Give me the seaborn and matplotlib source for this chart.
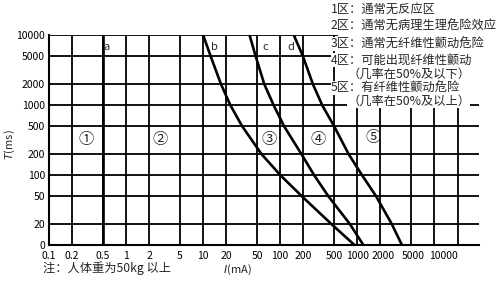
import numpy as np
import pandas as pd
import matplotlib
matplotlib.use("Agg")
import matplotlib.pyplot as plt
from matplotlib.ticker import NullLocator, FixedLocator, FixedFormatter
from matplotlib.patches import Rectangle
from matplotlib.transforms import ScaledTranslation
import seaborn as sns

# ---- data ----
x_ticks = [0.1, 0.2, 0.5, 1, 2, 5, 10, 20, 50, 100, 200, 500, 1000, 2000, 5000, 10000, 20000]
x_tick_labels = ["0.1", "0.2", "0.5", "1", "2", "5", "10", "20", "50", "100", "200",
                 "500", "1000", "2000", "5000", "10000", ""]
y_ticks = [10, 20, 50, 100, 200, 500, 1000, 2000, 5000, 10000]
y_tick_labels = ["0", "20", "50", "100", "200", "500", "1000", "2000", "5000", "10000"]

curve_T = [10000, 5000, 2000, 1000, 500, 200, 100, 50, 20, 10]
a_I = [0.5, 0.5]
a_T = [10, 10000]
b_I = [10, 12.5, 17, 22.5, 32, 57, 100, 190, 460, 920]
c_I = [40, 48, 62, 82, 112, 188, 275, 420, 800, 1200]
d_I = [150, 197, 265, 350, 500, 770, 1150, 1750, 2800, 3800]

curve_names = ["a", "b", "c", "d"]
curve_label_I = [0.56, 14, 64, 139]
curve_label_T = [6700, 6700, 6700, 6700]

zone_labels = ["①", "②", "③", "④", "⑤"]
zone_I = [0.30, 2.8, 72, 307, 1590]
zone_T = [320, 320, 320, 320, 340]

legend_lines = [
    "1区：通常无反应区",
    "2区：通常无病理生理危险效应",
    "3区：通常无纤维性颤动危险",
    "4区：可能出现纤维性颤动",
    "（几率在50%及以下）",
    "5区：有纤维性颤动危险",
    "（几率在50%及以上）",
]
legend_indent = [0, 0, 0, 0, 1, 0, 1]
note_text = "注：人体重为50kg 以上"

# ---- build long-form table ----
rows = []
for name, xs, ys in [("a", a_I, a_T), ("b", b_I, curve_T), ("c", c_I, curve_T), ("d", d_I, curve_T)]:
    for xv, yv in zip(xs, ys):
        rows.append({"curve": name, "I": xv, "T": yv})
df = pd.DataFrame(rows)

sns.set_style("white")
plt.rcParams["font.family"] = ["Noto Sans CJK SC", "DejaVu Sans"]

W, H = 500, 284
fig = plt.figure(figsize=(W / 100, H / 100), dpi=100)
ax = fig.add_axes([49 / W, 1 - 245 / H, 430 / W, 210 / H])
ax.set_xscale("log")
ax.set_yscale("log")
ax.set_axisbelow(True)

sns.lineplot(data=df, x="I", y="T", units="curve", estimator=None, sort=False,
             color="black", linewidth=1.9, legend=False, ax=ax, zorder=3)

ax.set_xlim(0.1, 38000)
ax.set_ylim(10, 10000)

ax.xaxis.set_major_locator(FixedLocator(x_ticks))
ax.xaxis.set_major_formatter(FixedFormatter(x_tick_labels))
ax.yaxis.set_major_locator(FixedLocator(y_ticks))
ax.yaxis.set_major_formatter(FixedFormatter(y_tick_labels))
ax.xaxis.set_minor_locator(NullLocator())
ax.yaxis.set_minor_locator(NullLocator())
ax.tick_params(axis="both", length=0, labelsize=7.5, colors="black")
ax.tick_params(axis="x", pad=4)
ax.tick_params(axis="y", pad=3)
ax.grid(True, color="black", linewidth=1.3)

for s in ["top", "right"]:
    ax.spines[s].set_visible(False)
for s in ["left", "bottom"]:
    ax.spines[s].set_color("black")
    ax.spines[s].set_linewidth(1.5)

ax.set_xlabel("")
ax.set_ylabel("")

# shift the last labels slightly to the right, as in the reference
fig.canvas.draw()
xt = ax.get_xticklabels()
shifts = {13: 3, 14: 2, 15: 9}
for idx, dx in shifts.items():
    xt[idx].set_transform(xt[idx].get_transform() + ScaledTranslation(dx / 100, 0, fig.dpi_scale_trans))

# white area behind the zone description text
ax.add_patch(Rectangle(((338 - 49) / 430, (245 - 104) / 210), 0.5, 0.6,
                       transform=ax.transAxes, facecolor="white", edgecolor="none",
                       clip_on=False, zorder=1.5))

for name, xv, yv in zip(curve_names, curve_label_I, curve_label_T):
    ax.text(xv, yv, name, fontsize=8, ha="center", va="center", zorder=4)

for lab, xv, yv in zip(zone_labels, zone_I, zone_T):
    ax.text(xv, yv, lab, fontsize=11, ha="center", va="center", zorder=4)

ys = [9, 26, 44, 60, 74, 88, 101]
for txt, ind, yp in zip(legend_lines, legend_indent, ys):
    xp = 347 if ind else 331
    fig.text(xp / W, 1 - yp / H, txt, fontsize=8.8, ha="left", va="center",
             bbox=dict(facecolor="white", edgecolor="none", pad=0.3), zorder=5)

fig.text(43 / W, 1 - 268 / H, note_text, fontsize=8.8, ha="left", va="center")
fig.text(237 / W, 1 - 270 / H, "$I$(mA)", fontsize=8, ha="center", va="center")
fig.text(10 / W, 1 - 145 / H, "$T$(ms)", fontsize=8, ha="center", va="center", rotation=90)

fig.savefig("out.png", dpi=100, facecolor="white")
